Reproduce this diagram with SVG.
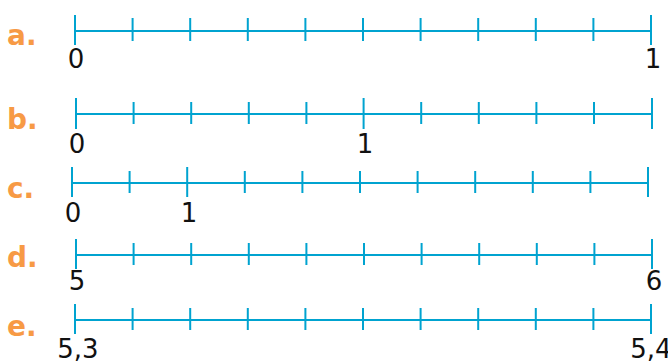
<svg xmlns="http://www.w3.org/2000/svg" width="668" height="363" viewBox="0 0 668 363">
<style>
.ax{stroke:#00a3d0;stroke-width:2;fill:none}
.lbl{font-family:"DejaVu Sans",sans-serif;font-size:26px;fill:#111;text-anchor:middle}
.let{font-family:"DejaVu Sans",sans-serif;font-weight:bold;font-size:28px;fill:#f79a45}
</style>
<rect width="668" height="363" fill="#fff"/>
<g id="line-a">
<text class="let" x="7" y="45">a.</text>
<path class="ax" d="M75 31H651M75 15V45M651 15V45M132.6 18V41M190.2 18V41M247.8 18V41M305.4 18V41M363 18V41M420.6 18V41M478.2 18V41M535.8 18V41M593.4 18V41"/>
<text class="lbl" x="76" y="68">0</text>
<text class="lbl" x="653" y="68">1</text>
</g>
<g id="line-b">
<text class="let" x="7" y="129">b.</text>
<path class="ax" d="M76 114H652M76 98V129M652 98V129M363.6 98V129M133.6 102V124M191.2 102V124M248.8 102V124M306.4 102V124M421.2 102V124M478.8 102V124M536.4 102V124M594 102V124"/>
<text class="lbl" x="77" y="153">0</text>
<text class="lbl" x="365" y="153">1</text>
</g>
<g id="line-c">
<text class="let" x="7" y="198">c.</text>
<path class="ax" d="M72 183H648M72 167V197M648 167V197M187.2 167V197M129.6 171V193M244.8 171V193M302.4 171V193M360 171V193M417.6 171V193M475.2 171V193M532.8 171V193M590.4 171V193"/>
<text class="lbl" x="73" y="222">0</text>
<text class="lbl" x="189" y="222">1</text>
</g>
<g id="line-d">
<text class="let" x="7" y="267">d.</text>
<path class="ax" d="M76 255H652M76 239V269M652 239V269M133.6 243V265M191.2 243V265M248.8 243V265M306.4 243V265M364 243V265M421.6 243V265M479.2 243V265M536.8 243V265M594.4 243V265"/>
<text class="lbl" x="77" y="290">5</text>
<text class="lbl" x="654" y="290">6</text>
</g>
<g id="line-e">
<text class="let" x="7" y="336">e.</text>
<path class="ax" d="M75 320H651M75 304V334M651 304V334M132.6 308V330M190.2 308V330M247.8 308V330M305.4 308V330M363 308V330M420.6 308V330M478.2 308V330M535.8 308V330M593.4 308V330"/>
<text class="lbl" x="78" y="358">5,3</text>
<text class="lbl" x="651" y="358">5,4</text>
</g>
</svg>
